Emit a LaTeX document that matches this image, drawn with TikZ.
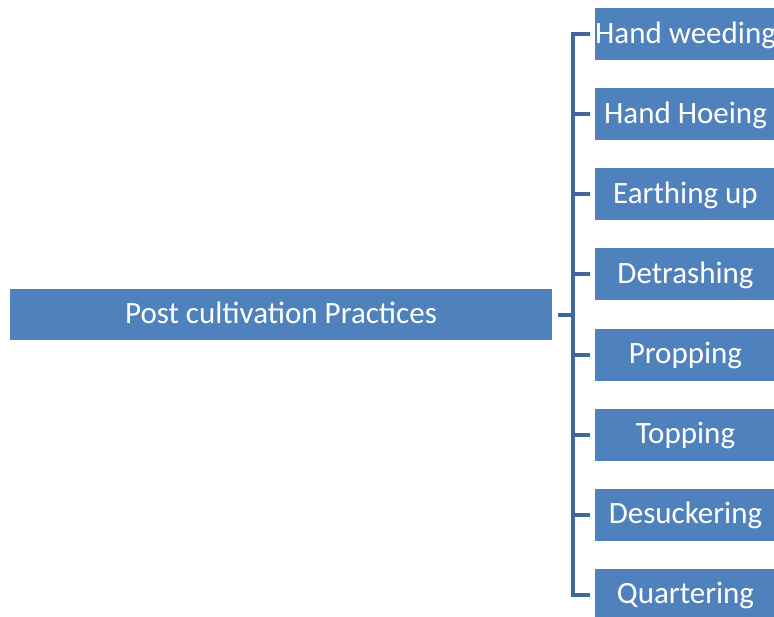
\documentclass[tikz,border=0pt]{standalone}
\usepackage{fontspec}
\setmainfont{Carlito}
\usepackage{tikz}
\definecolor{boxblue}{HTML}{4F81BD}
\definecolor{linkblue}{HTML}{41689C}

\begin{document}
\begin{tikzpicture}[x=1pt, y=1pt, every node/.style={font=\fontsize{31}{36}\selectfont}]
\tikzset{
  item/.style={rectangle, fill=boxblue, text=white, minimum width=181pt, minimum height=52pt,
    inner sep=0, text height=23pt, text depth=5pt},
  link/.style={draw=linkblue, line width=4pt}
}
\useasboundingbox (0,0) rectangle (774,-616);
% --- root box ---
\node[item, minimum width=542pt, minimum height=51pt] (post) at (281,-314.5) {Post cultivation Practices};
% --- practices, one per row ---
\foreach \name [count=\i] in {Hand weeding, Hand Hoeing, Earthing up, Detrashing, Propping, Topping, Desuckering, Quartering}
  \node[item] (p\i) at (685.5,{-34-(\i-1)*80.14}) {\name};
% --- bracket ---
\draw[link] ([xshift=6pt]post.east) -- ++(15,0) coordinate (spine);
\draw[link] ([xshift=-5pt]p1.west) -| (spine |- p8.west) -- ([xshift=-5pt]p8.west);
\foreach \i in {2,...,7} \draw[link] (spine |- p\i.west) -- ([xshift=-5pt]p\i.west);
\end{tikzpicture}
\end{document}
